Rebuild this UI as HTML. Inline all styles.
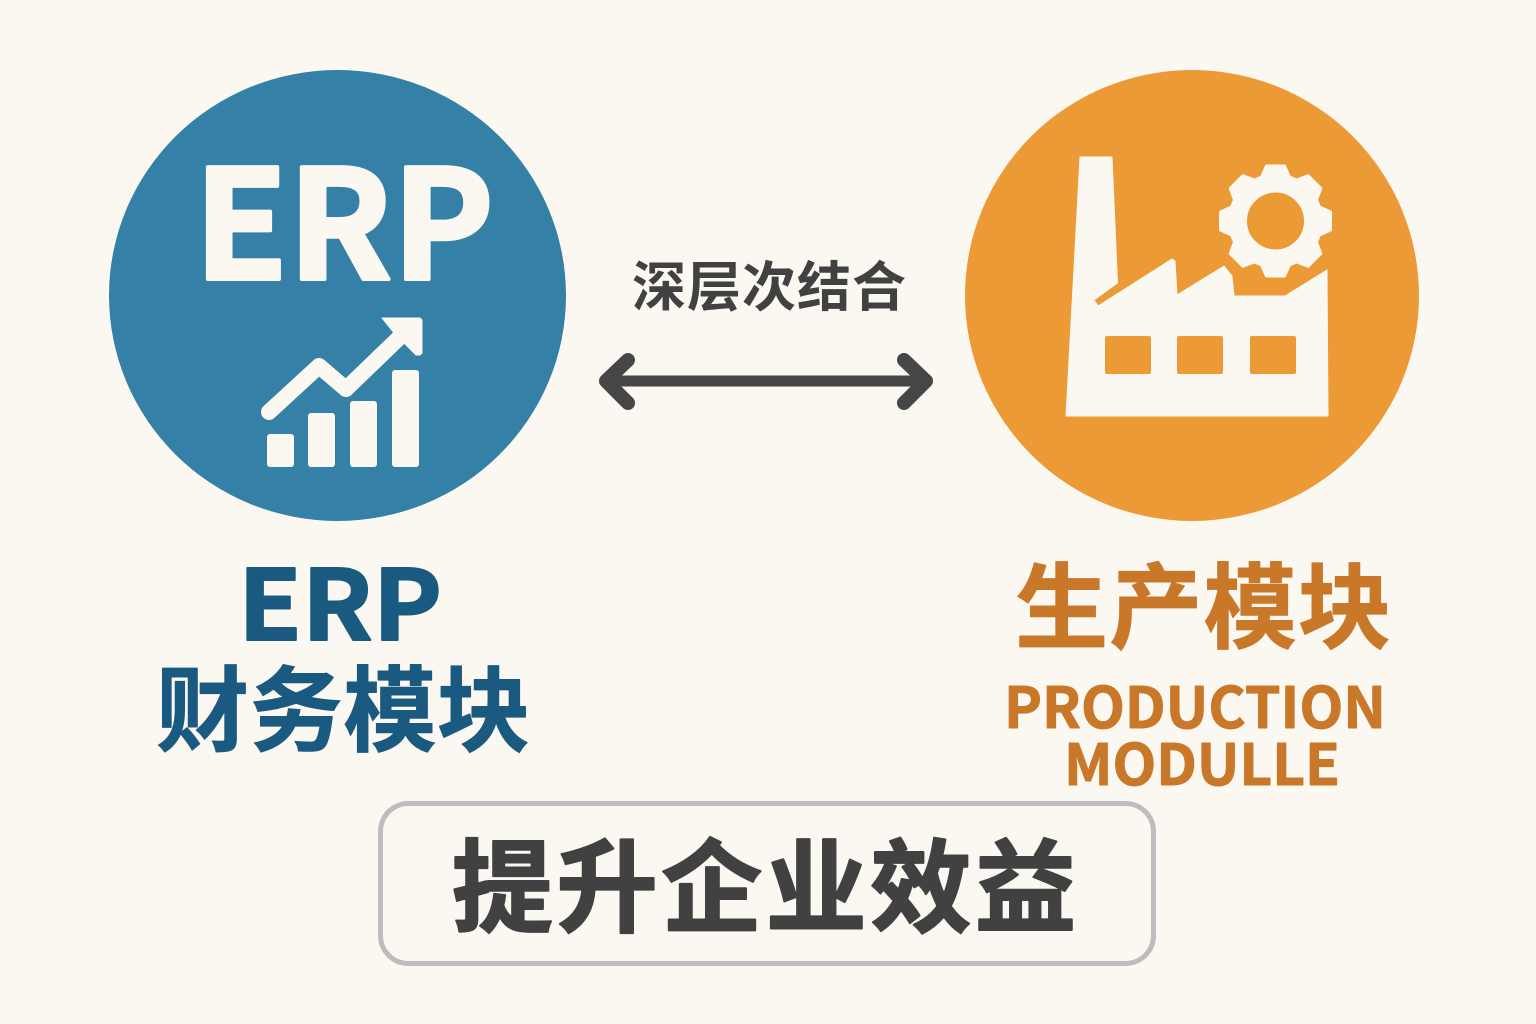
<!DOCTYPE html>
<html><head><meta charset="utf-8"><style>
html,body{margin:0;padding:0;background:#fbf8f2}
svg{display:block}
text{font-family:"Noto Sans CJK SC","Liberation Sans",sans-serif;font-weight:700;stroke-linejoin:round}
</style></head><body>
<svg width="1536" height="1024" viewBox="0 0 1536 1024" xmlns="http://www.w3.org/2000/svg">
<rect width="1536" height="1024" fill="#fbf8f2"/>
<ellipse cx="337.500" cy="295.500" rx="228.500" ry="225.500" fill="#3580a6"/>
<ellipse cx="1192" cy="295.500" rx="227" ry="225.500" fill="#ec9a35"/>

<text x="194" y="279" font-size="151" textLength="300" lengthAdjust="spacingAndGlyphs" fill="#fbf8f2" stroke="#fbf8f2" stroke-width="4">ERP</text>

<g fill="#fbf8f2">
<rect x="267" y="434" width="27" height="33" rx="3"/>
<rect x="308" y="413" width="27" height="54" rx="3"/>
<rect x="350" y="401" width="27" height="66" rx="3"/>
<rect x="392" y="370" width="27" height="97" rx="3"/>
<polyline points="269,412 319,366 346,389 404,333" fill="none" stroke="#fbf8f2" stroke-width="16" stroke-linecap="round" stroke-linejoin="round"/>
<polygon points="382,318 420,318 422,320 422,353 420,355 416,355 394,333" stroke="#fbf8f2" stroke-width="1" stroke-linejoin="round"/>
</g>

<path fill="#fbf8f2" stroke="#fbf8f2" stroke-width="1" stroke-linejoin="round" d="M1080 157 L1112 157 L1117.500 283 L1094 300 L1098 306 L1172 259 L1175 261 L1177 295 L1224 266 L1232 276 L1234 296 L1285 296 L1327 270 L1328 416 L1066 416 Z"/>
<g fill="#ec9a35">
<rect x="1105" y="336" width="46" height="38" rx="2"/>
<rect x="1177" y="336" width="46" height="38" rx="2"/>
<rect x="1250" y="336" width="46" height="38" rx="2"/>
</g>
<g transform="translate(1275.500,221)" fill="#fbf8f2" stroke="#fbf8f2" stroke-width="3" stroke-linejoin="round">
<circle r="38" fill="none" stroke="#fbf8f2" stroke-width="19"/>
<polygon points="-14,-44 -9,-55 9,-55 14,-44"/>
<polygon points="-14,-44 -9,-55 9,-55 14,-44" transform="rotate(45)"/>
<polygon points="-14,-44 -9,-55 9,-55 14,-44" transform="rotate(90)"/>
<polygon points="-14,-44 -9,-55 9,-55 14,-44" transform="rotate(135)"/>
<polygon points="-14,-44 -9,-55 9,-55 14,-44" transform="rotate(180)"/>
<polygon points="-14,-44 -9,-55 9,-55 14,-44" transform="rotate(225)"/>
<polygon points="-14,-44 -9,-55 9,-55 14,-44" transform="rotate(270)"/>
<polygon points="-14,-44 -9,-55 9,-55 14,-44" transform="rotate(315)"/>
</g>

<text x="632" y="306" font-size="54" textLength="274" fill="#414141">深层次结合</text>
<g fill="none" stroke="#464646" stroke-linecap="round" stroke-linejoin="round">
<line x1="606" y1="381" x2="926" y2="381" stroke-width="11"/>
<polyline points="628,360 606,381 628,403" stroke-width="14"/>
<polyline points="904,360 926,381 904,403" stroke-width="14"/>
</g>

<text x="238" y="640" font-size="97" textLength="204" lengthAdjust="spacingAndGlyphs" fill="#1a5a80" stroke="#1a5a80" stroke-width="2">ERP</text>
<text x="156" y="744" font-size="93" textLength="374" fill="#1a5a80" stroke="#1a5a80" stroke-width="1">财务模块</text>
<text x="1015" y="641" font-size="93" textLength="376" fill="#c9782a" stroke="#c9782a" stroke-width="1">生产模块</text>
<text x="1004" y="728" font-size="57" textLength="382" lengthAdjust="spacingAndGlyphs" fill="#c9782a" stroke="#c9782a" stroke-width="1">PRODUCTION</text>
<text x="1064" y="785" font-size="57" textLength="276" lengthAdjust="spacingAndGlyphs" fill="#c9782a" stroke="#c9782a" stroke-width="1">MODULLE</text>

<rect x="380.500" y="803.500" width="773" height="160" rx="28" fill="#fbf8f2" stroke="#bdbdbd" stroke-width="5"/>
<text x="452" y="924" font-size="101" textLength="624" fill="#414141" stroke="#414141" stroke-width="2">提升企业效益</text>
</svg>
</body></html>
